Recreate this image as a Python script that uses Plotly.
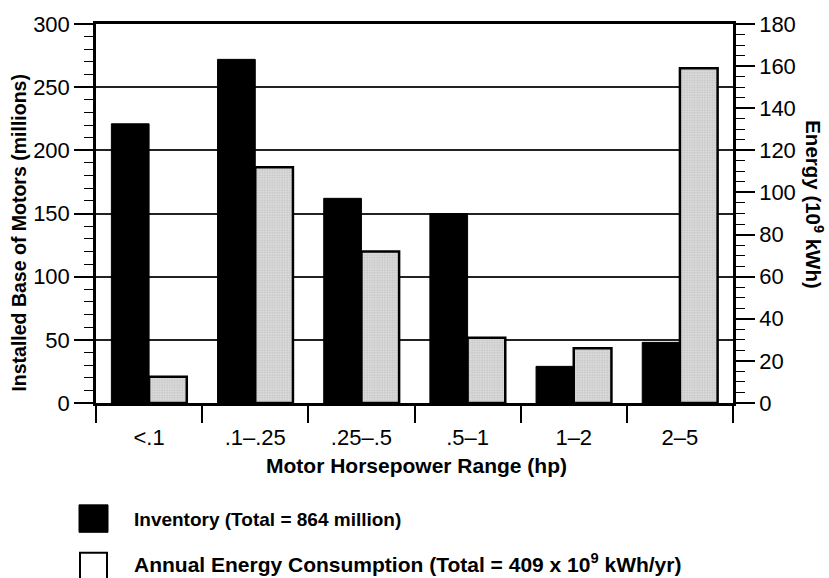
import plotly.graph_objects as go

# Motor size classes (hp)
categories = ["<.1", ".1–.25", ".25–.5", ".5–1", "1–2", "2–5"]
# Installed base of motors, millions (left axis)
inventory = [221, 272, 162, 150, 29, 48]
# Annual energy consumption, 10^9 kWh (right axis)
energy = [12.5, 112, 72, 31, 26, 159]

left_ticks = [0, 50, 100, 150, 200, 250, 300]
right_ticks = [0, 20, 40, 60, 80, 100, 120, 140, 160, 180]

FONT = "Liberation Sans, Arial, Helvetica, sans-serif"

fig = go.Figure()
fig.add_trace(go.Bar(
    x=categories, y=inventory, name="Inventory (Total = 864 million)",
    marker=dict(color="black", line=dict(color="black", width=1)),
    offsetgroup="inv", yaxis="y", showlegend=False,
))
fig.add_trace(go.Bar(
    x=categories, y=energy,
    name="Annual Energy Consumption (Total = 409 x 10<sup>9</sup> kWh/yr)",
    marker=dict(
        color="#dcdcdc",
        line=dict(color="black", width=2.5),
        pattern=dict(shape=".", fgcolor="#a8a8a8", bgcolor="#e2e2e2",
                     size=2.5, solidity=0.5),
    ),
    offsetgroup="energy", yaxis="y2", showlegend=False,
))

L, R, T, B = 96, 96, 16, 175
W, H = 829, 578
pw, ph = W - L - R, H - T - B


def px(x):
    return (x - L) / pw


def py(y):
    return (H - B - y) / ph


axis_font = dict(family=FONT, size=22, color="black")

fig.update_layout(
    width=W, height=H,
    margin=dict(l=L, r=R, t=T, b=B, pad=0),
    paper_bgcolor="white", plot_bgcolor="white",
    barmode="group", bargap=0.29, bargroupgap=0,
    font=dict(family=FONT, color="black"),
    xaxis=dict(
        type="category", tickson="boundaries", ticks="outside",
        ticklen=17, tickwidth=1.5, tickcolor="black",
        ticklabelstandoff=13,
        showline=True, linecolor="black", linewidth=2.5, mirror=True,
        showgrid=False, tickfont=axis_font,
    ),
    yaxis=dict(
        range=[0, 300], tickvals=left_ticks, ticks="outside",
        ticklen=19, tickwidth=1.5, tickcolor="black",
        minor=dict(dtick=10, ticks="outside", ticklen=9, tickwidth=1,
                   tickcolor="black", showgrid=False),
        showline=True, linecolor="black", linewidth=2.5,
        showgrid=True, gridcolor="#222222", gridwidth=1.5,
        zeroline=False, tickfont=axis_font,
    ),
    yaxis2=dict(
        range=[0, 180], tickvals=right_ticks, overlaying="y", side="right",
        ticks="outside", ticklen=19, tickwidth=1.5, tickcolor="black",
        minor=dict(dtick=5, ticks="outside", ticklen=9, tickwidth=1,
                   tickcolor="black", showgrid=False),
        showline=True, linecolor="black", linewidth=2.5,
        showgrid=False, zeroline=False, tickfont=axis_font,
    ),
)


def tf(size):
    return dict(family=FONT, size=size, color="black")


bold = "<b>{}</b>"

annotations = [
    dict(text=bold.format("Motor Horsepower Range (hp)"), x=px(416), y=py(467),
         xanchor="center", yanchor="middle", font=tf(21)),
    dict(text=bold.format("Installed Base of Motors (millions)"), x=px(19), y=py(230),
         textangle=-90, xanchor="center", yanchor="middle", font=tf(19.5)),
    dict(text=bold.format("Energy (10<sup>9</sup> kWh)"), x=px(814), y=py(200),
         textangle=90, xanchor="center", yanchor="middle", font=tf(20.5)),
    dict(text=bold.format("Inventory (Total = 864 million)"), x=px(132), y=py(522),
         xanchor="left", yanchor="middle", font=tf(19)),
    dict(text=bold.format("Annual Energy Consumption (Total = 409 x 10<sup>9</sup> kWh/yr)"),
         x=px(132), y=py(566), xanchor="left", yanchor="middle", font=tf(21)),
]
for a in annotations:
    a.update(xref="paper", yref="paper", showarrow=False)
fig.update_layout(annotations=annotations)

# Legend swatches
fig.add_shape(type="rect", xref="paper", yref="paper",
              x0=px(79), x1=px(108), y0=py(507), y1=py(535),
              fillcolor="black", line=dict(color="black", width=1))
fig.add_shape(type="rect", xref="paper", yref="paper",
              x0=px(80), x1=px(107), y0=py(556), y1=py(583),
              fillcolor="white", line=dict(color="black", width=2))

fig.write_html("out.html")
